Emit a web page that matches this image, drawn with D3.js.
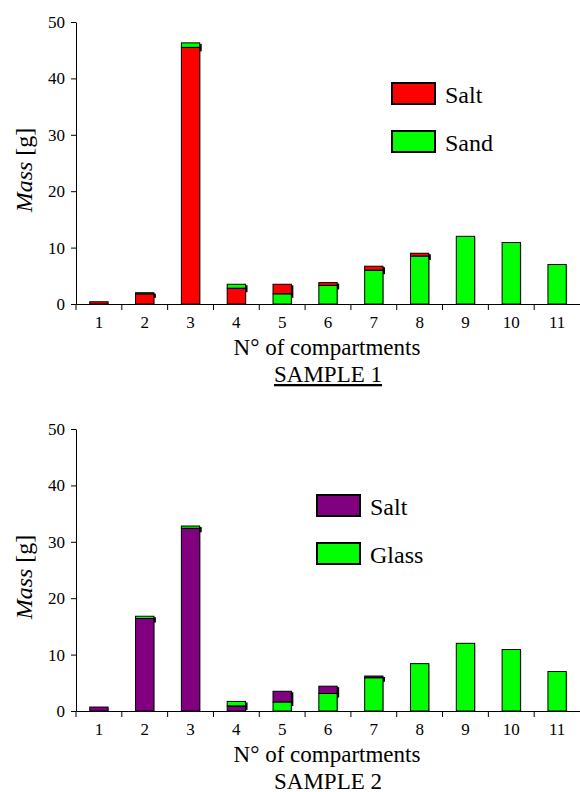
<!DOCTYPE html>
<html>
<head>
<meta charset="utf-8">
<script src="https://cdn.jsdelivr.net/npm/d3@7/dist/d3.min.js"></script>
<style>
  body { margin: 0; background: #fff; }
</style>
</head>
<body>
<div id="chart"></div>
<script>
var width = 580,
    height = 792;
var serif = "'Liberation Serif', 'Times New Roman', serif";

var compartments = [1, 2, 3, 4, 5, 6, 7, 8, 9, 10, 11];
var yTicks = [0, 10, 20, 30, 40, 50];

// sample 1: salt + sand
var salt1 = [0.4, 1.8, 45.5, 2.8, 1.7, 0.5, 0.7, 0.5, 0, 0, 0];
var sand1 = [0, 0.2, 0.8, 0.7, 1.8, 3.3, 6.0, 8.5, 12.0, 10.9, 7.0];
var saltOnTop1 = [0, 0, 0, 0, 1, 1, 1, 1, 0, 0, 0];

// sample 2: salt + glass
var salt2 = [0.7, 16.4, 32.4, 0.9, 1.9, 1.3, 0.3, 0, 0, 0, 0];
var glass2 = [0, 0.4, 0.4, 0.8, 1.6, 3.1, 5.9, 8.4, 12.0, 10.9, 7.0];
var saltOnTop2 = [0, 0, 0, 0, 1, 1, 1, 0, 0, 0, 0];

var svg = d3.select("#chart")
    .append("svg")
    .attr("width", width)
    .attr("height", height)
    .attr("font-family", serif);

function panel(cfg) {
  var x = d3.scaleBand()
      .domain(compartments)
      .range([76, 580])
      .paddingInner(0.6)
      .paddingOuter(0.3);
  var y = d3.scaleLinear()
      .domain([0, 50])
      .range([cfg.bottom, cfg.top]);

  var rows = compartments.map(function(c, i) {
    var top = cfg.saltOnTop[i] === 1;
    return {
      c: c,
      saltLow: top ? 0 : cfg.salt[i],
      other: cfg.other[i],
      saltHigh: top ? cfg.salt[i] : 0
    };
  });
  var stack = d3.stack().keys(["saltLow", "other", "saltHigh"]);
  var layers = stack(rows);
  var colors = { saltLow: cfg.saltColor, other: "#00ff00", saltHigh: cfg.saltColor };

  var g = svg.append("g");

  var segs = [];
  layers.forEach(function(layer) {
    layer.forEach(function(d) {
      if (d[1] - d[0] > 0) segs.push({ key: layer.key, c: d.data.c, y0: d[0], y1: d[1], data: d.data });
    });
  });
  function isTop(s) {
    var n = (s.data.saltLow > 0) + (s.data.other > 0) + (s.data.saltHigh > 0);
    var total = s.data.saltLow + s.data.other + s.data.saltHigh;
    return n > 1 && s.y1 === total;
  }

  // light grey halo
  g.selectAll("rect.halo")
    .data(segs)
    .enter().append("rect")
    .attr("x", function(d) { return x(d.c) + 1; })
    .attr("y", function(d) { return y(d.y1) + 1; })
    .attr("width", x.bandwidth())
    .attr("height", function(d) { return y(d.y0) - y(d.y1); })
    .attr("fill", "#b0b0b0");

  // dark shadow behind the upper piece of mixed bars
  g.selectAll("rect.shadow")
    .data(segs.filter(isTop))
    .enter().append("rect")
    .attr("x", function(d) { return x(d.c) + 2; })
    .attr("y", function(d) { return y(d.y1) + 1; })
    .attr("width", x.bandwidth())
    .attr("height", function(d) { return y(d.y0) - y(d.y1) + 3; })
    .attr("fill", "#000");

  g.selectAll("rect.bar")
    .data(segs)
    .enter().append("rect")
    .attr("x", function(d) { return x(d.c); })
    .attr("y", function(d) { return y(d.y1); })
    .attr("width", x.bandwidth())
    .attr("height", function(d) { return y(d.y0) - y(d.y1); })
    .attr("fill", function(d) { return colors[d.key]; })
    .attr("stroke", "#000")
    .attr("stroke-width", 1);

  // y axis
  var yAxis = g.append("g")
      .attr("transform", "translate(76,0)")
      .call(d3.axisLeft(y).tickValues(yTicks).tickSize(5).tickSizeOuter(0).tickPadding(6));
  yAxis.attr("font-family", serif).attr("font-size", 17);
  yAxis.selectAll("line, path").attr("stroke", "#000");

  // x axis
  var xAxis = g.append("g")
      .attr("transform", "translate(0," + cfg.bottom + ")")
      .call(d3.axisBottom(x).tickSize(0).tickSizeOuter(0).tickPadding(12));
  xAxis.attr("font-family", serif).attr("font-size", 17);
  xAxis.select(".domain").attr("stroke", "#000");
  var edges = compartments.map(function(c) { return x(c) - x.bandwidth() * 0.75; });
  xAxis.selectAll("line.edge")
    .data(edges)
    .enter().append("line")
    .attr("x1", function(d) { return d; })
    .attr("x2", function(d) { return d; })
    .attr("y1", 0)
    .attr("y2", 6)
    .attr("stroke", "#000");

  // titles
  g.append("text")
    .attr("transform", "translate(32," + (cfg.top + 148) + ") rotate(-90)")
    .attr("text-anchor", "middle")
    .attr("font-size", 24)
    .html('<tspan font-style="italic">Mass</tspan> [g]');
  g.append("text")
    .attr("x", 327)
    .attr("y", cfg.bottom + 51)
    .attr("text-anchor", "middle")
    .attr("font-size", 23)
    .text("N\u00b0 of compartments");
  g.append("text")
    .attr("x", 328)
    .attr("y", cfg.bottom + 78)
    .attr("text-anchor", "middle")
    .attr("font-size", 23)
    .style("text-decoration", cfg.underline ? "underline" : "none")
    .text(cfg.sample);

  // legend
  var leg = g.append("g").attr("class", "legend")
    .selectAll("g")
    .data([{ name: "Salt", color: cfg.saltColor }, { name: cfg.otherName, color: "#00ff00" }])
    .enter().append("g")
    .attr("transform", function(d, i) { return "translate(" + cfg.legX + "," + (cfg.legY + i * 48) + ")"; });
  leg.append("rect")
    .attr("x", 1).attr("y", 1)
    .attr("width", 43).attr("height", 21)
    .attr("fill", "#b0b0b0");
  leg.append("rect")
    .attr("width", 43).attr("height", 21)
    .attr("fill", function(d) { return d.color; })
    .attr("stroke", "#000")
    .attr("stroke-width", 2);
  leg.append("text")
    .attr("x", 53)
    .attr("y", 20)
    .attr("font-size", 24)
    .text(function(d) { return d.name; });
}

panel({ top: 22, bottom: 304, salt: salt1, other: sand1, saltOnTop: saltOnTop1,
        saltColor: "#ff0000", otherName: "Sand", sample: "SAMPLE 1", underline: true,
        legX: 392, legY: 83 });
panel({ top: 429, bottom: 711, salt: salt2, other: glass2, saltOnTop: saltOnTop2,
        saltColor: "#800080", otherName: "Glass", sample: "SAMPLE 2", underline: false,
        legX: 317, legY: 495 });
</script>
</body>
</html>
